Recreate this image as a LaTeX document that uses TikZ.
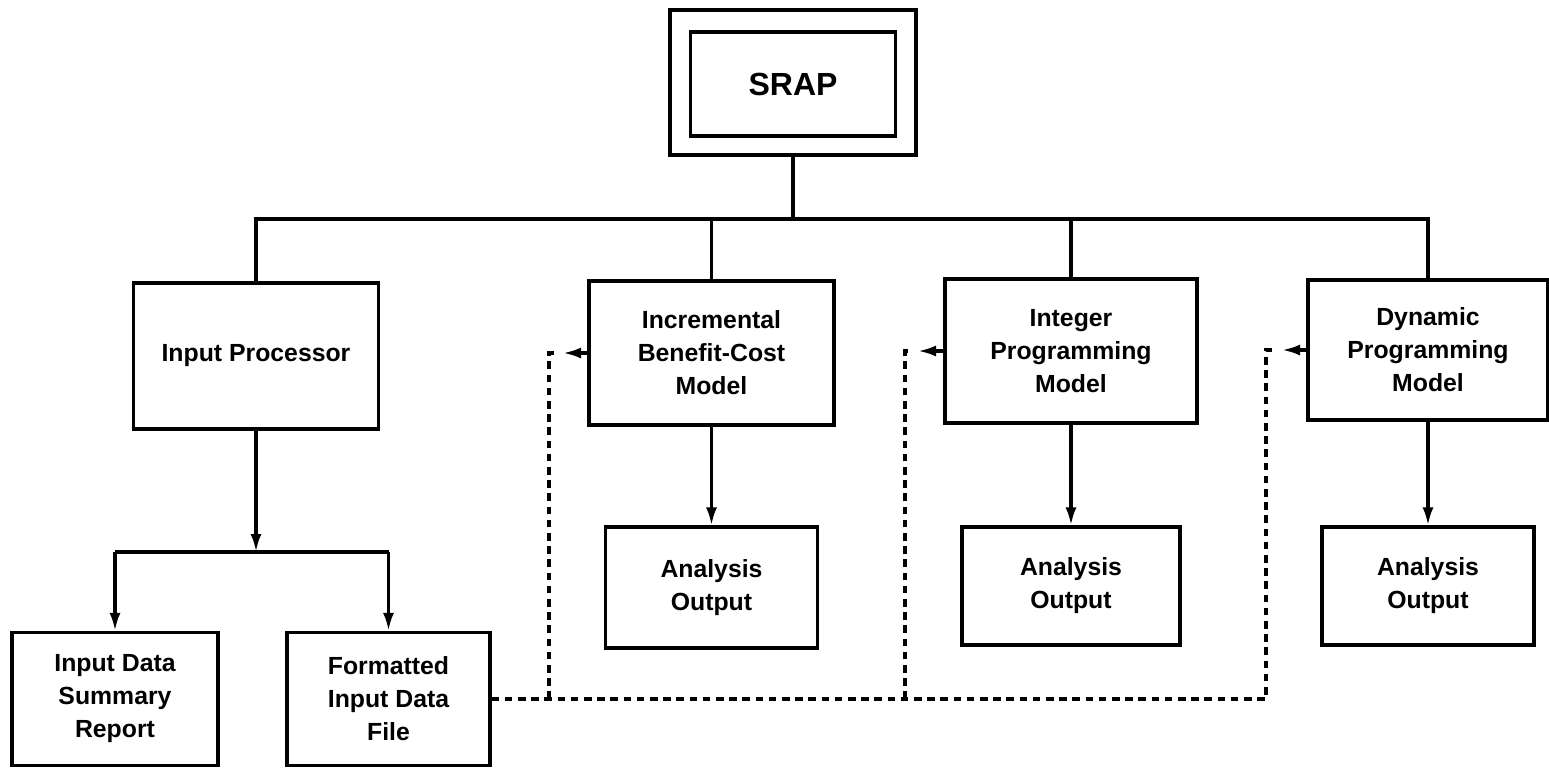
\documentclass[tikz,border=0pt]{standalone}
\usepackage{fontspec}
\setmainfont{Liberation Sans}
\usetikzlibrary{arrows.meta}
\begin{document}
\begin{tikzpicture}[x=0.5pt,y=-0.5pt,
  line width=1.6pt,
  box/.style={draw, rectangle, inner sep=0pt, align=center,
    font=\fontsize{12.4}{16.5}\selectfont\bfseries},
  arr/.style={-{Latex[length=9pt,width=5.5pt]}},
  dl/.style={line width=2pt, dash pattern=on 3.8pt off 2.8pt},
]
\useasboundingbox (0,0) rectangle (1549,767);

% top-level program
\node[box, minimum width=123pt, minimum height=72.5pt] (srapout) at (793,82.5) {};
\node[box, minimum width=102.5pt, minimum height=52pt,
      font=\fontsize{16}{19}\selectfont\bfseries] (srapin) at (793,84) {SRAP};

% program modules
\node[box, minimum width=122.5pt, minimum height=73pt] (inp) at (256,356) {Input Processor};
\node[box, minimum width=122.5pt, minimum height=72pt] (inc) at (711.5,353) {Incremental\\Benefit-Cost\\Model};
\node[box, minimum width=126pt, minimum height=72pt] (intg) at (1071,351) {Integer\\Programming\\Model};
\node[box, minimum width=120pt, minimum height=70pt] (dyn) at (1428,350) {Dynamic\\Programming\\Model};

% module outputs
\node[box, minimum width=106pt, minimum height=60.5pt] (ao1) at (711.5,587.5) {Analysis\\Output};
\node[box, minimum width=109pt, minimum height=59pt] (ao2) at (1071,586) {Analysis\\Output};
\node[box, minimum width=106pt, minimum height=59pt] (ao3) at (1428,586) {Analysis\\Output};

% input processor products
\node[box, minimum width=103pt, minimum height=66.5pt] (sum) at (115,699) {Input Data\\Summary\\Report};
\node[box, minimum width=101.5pt, minimum height=66.5pt] (fmt) at (388.5,699) {Formatted\\Input Data\\File};

% hierarchy bus
\coordinate (bus) at (0,219);
\coordinate (sub) at (0,552);
\draw (inp.north) -- (inp.north |- bus) -- (dyn.north |- bus) -- (dyn.north);
\draw (srapout.south) -- (srapout.south |- bus);
\draw (inc.north) -- (inc.north |- bus);
\draw (intg.north) -- (intg.north |- bus);

% input processor branches
\draw[arr] (inp.south) -- (inp.south |- sub);
\draw (sum.north |- sub) -- (fmt.north |- sub);
\draw[arr] (sum.north |- sub) -- (sum.north);
\draw[arr] (fmt.north |- sub) -- (fmt.north);

% model outputs
\draw[arr] (inc.south) -- (ao1.north);
\draw[arr] (intg.south) -- (ao2.north);
\draw[arr] (dyn.south) -- (ao3.north);

% formatted data file feeding the models
\coordinate (t1) at (549,353);
\coordinate (t2) at (905,351);
\coordinate (t3) at (1266,350);
\coordinate (s1) at (557,353);
\coordinate (s2) at (913,351);
\coordinate (s3) at (1276,350);
\coordinate (h1) at (563,353);
\coordinate (h2) at (918,351);
\coordinate (h3) at (1282,350);
\draw[dl] (fmt.east) -- (fmt.east -| t3) -- (t3) -- (s3);
\draw[dl] (fmt.east -| t1) -- (t1) -- (s1);
\draw[dl] (fmt.east -| t2) -- (t2) -- (s2);
\draw[arr] (inc.west) -- (h1);
\draw[arr] (intg.west) -- (h2);
\draw[arr] (dyn.west) -- (h3);
\end{tikzpicture}
\end{document}
